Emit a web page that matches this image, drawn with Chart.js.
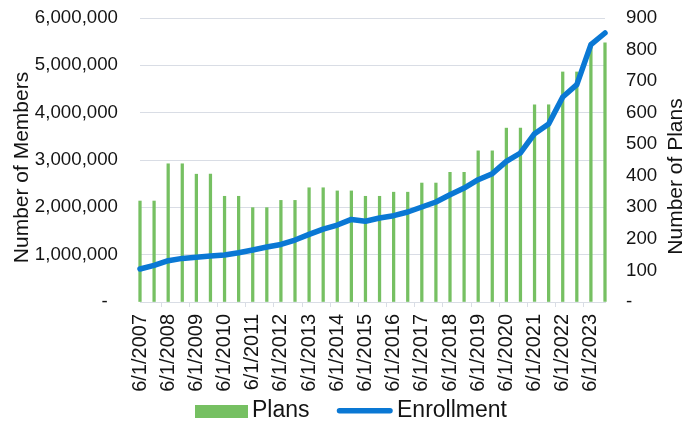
<!DOCTYPE html>
<html>
<head>
<meta charset="utf-8">
<script src="https://cdn.jsdelivr.net/npm/chart.js@4"></script>
<style>
html,body{margin:0;padding:0;background:#fff;}
canvas{display:block;}
</style>
</head>
<body>
<canvas id="c" width="699" height="421"></canvas>
<script>
const categories = [
  '6/1/2007','12/1/2007','6/1/2008','12/1/2008','6/1/2009','12/1/2009',
  '6/1/2010','12/1/2010','6/1/2011','12/1/2011','6/1/2012','12/1/2012',
  '6/1/2013','12/1/2013','6/1/2014','12/1/2014','6/1/2015','12/1/2015',
  '6/1/2016','12/1/2016','6/1/2017','12/1/2017','6/1/2018','12/1/2018',
  '6/1/2019','12/1/2019','6/1/2020','12/1/2020','6/1/2021','12/1/2021',
  '6/1/2022','12/1/2022','6/1/2023','12/1/2023'
];
const plans = [
  320, 320, 438, 438, 405, 405,
  335, 335, 299, 299, 322, 322,
  362, 362, 352, 352, 335, 335,
  348, 348, 377, 377, 411, 411,
  479, 479, 551, 551, 625, 625,
  729, 729, 821, 821
];
const enrollment = [
  697000, 773000, 872000, 921000, 943000, 971000,
  992000, 1040000, 1098000, 1161000, 1216000, 1309000,
  1428000, 1541000, 1626000, 1745000, 1706000, 1775000,
  1823000, 1901000, 2007000, 2113000, 2267000, 2408000,
  2584000, 2711000, 2971000, 3148000, 3556000, 3761000,
  4331000, 4591000, 5436000, 5683000
];
const leftTitle = 'Number of Members';
const rightTitle = 'Number of Plans';
const seriesNames = ['Plans', 'Enrollment'];

const GREEN = '#76c062';
const BLUE = '#0a78d4';
const GRID = '#d9dde5';
const TEXT = '#141414';
const CLEAR = 'rgba(0,0,0,0)';
const FONT = "'Liberation Sans', Arial, sans-serif";

const overlay = {
  id: 'overlay',
  afterDraw(chart) {
    const ctx = chart.ctx;
    ctx.save();
    ctx.fillStyle = TEXT;
    ctx.font = '21px ' + FONT;
    ctx.textAlign = 'center';
    ctx.textBaseline = 'middle';
    ctx.save();
    ctx.translate(22.5, 167.5);
    ctx.rotate(-Math.PI / 2);
    ctx.fillText(leftTitle, 0, 0);
    ctx.restore();
    ctx.save();
    ctx.translate(676.5, 176.5);
    ctx.rotate(-Math.PI / 2);
    ctx.fillText(rightTitle, 0, 0);
    ctx.restore();
    ctx.font = '23px ' + FONT;
    ctx.textAlign = 'left';
    ctx.textBaseline = 'alphabetic';
    ctx.fillStyle = GREEN;
    ctx.fillRect(195, 405, 53, 13);
    ctx.fillStyle = TEXT;
    ctx.fillText(seriesNames[0], 252, 416.5);
    ctx.strokeStyle = BLUE;
    ctx.lineWidth = 5.5;
    ctx.lineCap = 'round';
    ctx.beginPath();
    ctx.moveTo(339.5, 410.7);
    ctx.lineTo(390, 410.7);
    ctx.stroke();
    ctx.fillStyle = TEXT;
    ctx.fillText(seriesNames[1], 397, 416.5);
    ctx.restore();
  }
};

new Chart(document.getElementById('c'), {
  type: 'bar',
  data: {
    labels: categories,
    datasets: [
      {
        type: 'line',
        label: seriesNames[1],
        data: enrollment,
        yAxisID: 'y',
        borderColor: BLUE,
        backgroundColor: BLUE,
        borderWidth: 5.5,
        borderCapStyle: 'round',
        borderJoinStyle: 'round',
        pointRadius: 0,
        tension: 0,
        fill: false,
        clip: false,
        order: 0
      },
      {
        type: 'bar',
        label: seriesNames[0],
        data: plans,
        yAxisID: 'y2',
        backgroundColor: GREEN,
        borderWidth: 0,
        barThickness: 2.6,
        clip: false,
        order: 1
      }
    ]
  },
  options: {
    responsive: false,
    animation: false,
    devicePixelRatio: 1,
    layout: { padding: { top: 18, left: 0, right: 0, bottom: 0 } },
    plugins: { legend: { display: false }, tooltip: { enabled: false } },
    scales: {
      x: {
        offset: false,
        afterFit(s) { s.height = 119; },
        border: { display: true, color: GRID, width: 1 },
        grid: {
          drawOnChartArea: false,
          drawTicks: true,
          tickLength: 5,
          color: (c) => (c.index % 2 === 0 ? GRID : CLEAR),
          tickColor: (c) => (c.index % 2 === 0 ? GRID : CLEAR)
        },
        ticks: {
          autoSkip: false,
          maxRotation: 90,
          minRotation: 90,
          padding: 7,
          color: TEXT,
          font: { family: FONT, size: 20 },
          callback: function (v, i) { return i % 2 === 0 ? categories[i] : ''; }
        }
      },
      y: {
        position: 'left',
        min: 0,
        max: 6000000,
        afterFit(s) { s.width = 140; },
        border: { display: false },
        grid: { color: GRID, lineWidth: 1, drawTicks: true, tickLength: 22, tickColor: CLEAR },
        ticks: {
          stepSize: 1000000,
          padding: 0,
          color: TEXT,
          font: { family: FONT, size: 18.7 },
          callback: (v) => (v === 0 ? '-  ' : v.toLocaleString('en-US'))
        }
      },
      y2: {
        position: 'right',
        min: 0,
        max: 900,
        afterFit(s) { s.width = 94; },
        border: { display: false },
        grid: { drawOnChartArea: false, drawTicks: true, tickLength: 21, tickColor: CLEAR },
        ticks: {
          stepSize: 100,
          padding: 0,
          color: TEXT,
          font: { family: FONT, size: 18.7 },
          callback: (v) => (v === 0 ? '-' : String(v))
        }
      }
    }
  },
  plugins: [overlay]
});
</script>
</body>
</html>
